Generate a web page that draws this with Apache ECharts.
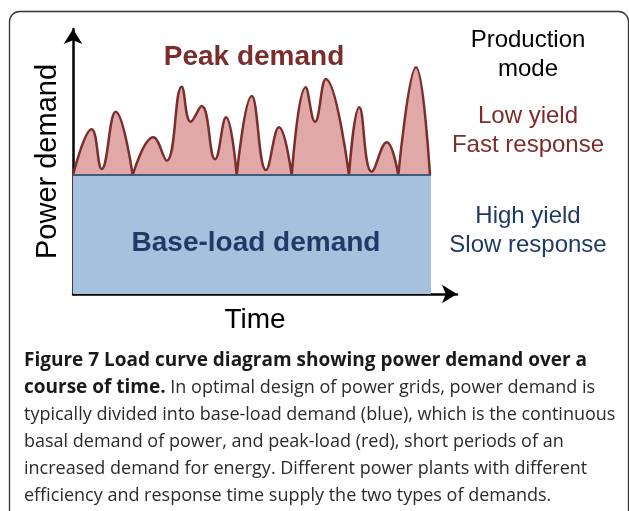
<!DOCTYPE html>
<html>
<head>
<meta charset="utf-8">
<script src="https://cdn.jsdelivr.net/npm/echarts@6/dist/echarts.min.js"></script>
<style>
  html, body { margin: 0; padding: 0; background: #fff; }
  #chart { width: 629px; height: 511px; }
</style>
</head>
<body>
<div id="chart"></div>
<script>
// time positions and load values of the peak curve (arbitrary units, base = 119)
const peakTime = [0, 18.7, 28.7, 42.7, 59.7, 80.3, 93.7, 108.7, 117.7, 128.7, 142, 153, 163.7,
  178.7, 193, 206, 218.7, 232.7, 242, 252.7, 276, 286.3, 298.7, 313.7, 325.3, 343, 357]
const peakLoad = [119, 164.7, 125, 182.3, 119, 156.7, 133.3, 207.3, 172.3, 188, 134.7, 176.7, 119,
  198, 124, 166.7, 119, 206.7, 172.3, 215, 119, 186.7, 122.3, 151.7, 119, 226.7, 119]

// constant base load
const baseTime = [0, 358]
const baseLoad = [119, 119]

const captionLines = [
  '{b|Figure 7 Load curve diagram showing power demand over a}',
  '{b|course of time.} In optimal design of power grids, power demand is',
  'typically divided into base-load demand (blue), which is the continuous',
  'basal demand of power, and peak-load (red), short periods of an',
  'increased demand for energy. Different power plants with different',
  'efficiency and response time supply the two types of demands.'
]

// break the line at every point touching the base so each hump ends in a sharp corner
const peakData = []
peakTime.forEach((t, i) => {
  peakData.push([t, peakLoad[i]])
  if (peakLoad[i] === baseLoad[0] && i > 0 && i < peakTime.length - 1) {
    peakData.push([t, '-'])
    peakData.push([t, peakLoad[i]])
  }
})
const baseData = baseTime.map((t, i) => [t, baseLoad[i]])

const chart = echarts.init(document.getElementById('chart'))

const axisCommon = {
  type: 'value',
  min: 0,
  axisLabel: { show: false },
  axisTick: { show: false },
  splitLine: { show: false },
  axisLine: {
    show: true,
    symbol: ['none', 'arrow'],
    symbolSize: [14, 15],
    lineStyle: { color: '#000', width: 2.5 }
  },
  nameLocation: 'middle'
}

const option = {
  animation: false,
  backgroundColor: '#fff',
  grid: { left: 73, right: 172, top: 29, bottom: 217 },
  xAxis: Object.assign({}, axisCommon, {
    max: 384,
    name: 'Time',
    nameGap: 12,
    nameTextStyle: { fontFamily: 'Liberation Sans', fontSize: 28, color: '#000', padding: [0, 20, 0, 0] }
  }),
  yAxis: Object.assign({}, axisCommon, {
    max: 265,
    name: 'Power demand',
    nameGap: 11,
    nameRotate: 90,
    nameTextStyle: { fontFamily: 'Liberation Sans', fontSize: 29, color: '#000' }
  }),
  series: [
    {
      name: 'Peak demand',
      type: 'line',
      data: peakData,
      smooth: 0.45,
      connectNulls: false,
      symbol: 'none',
      lineStyle: { color: '#7a2e2e', width: 2.5 },
      areaStyle: { color: '#e0a8a6', opacity: 1, origin: 'start' }
    },
    {
      name: 'Base-load demand',
      type: 'line',
      data: baseData,
      symbol: 'none',
      lineStyle: { color: '#3d5a80', width: 2 },
      areaStyle: { color: '#a7c0de', opacity: 1, origin: 'start' }
    }
  ],
  graphic: [
    {
      type: 'rect',
      shape: { x: 9.5, y: 11.5, width: 619, height: 530, r: 10 },
      style: { fill: 'none', stroke: '#333', lineWidth: 1.3 },
      z: 0
    },
    {
      type: 'text', x: 254, y: 57,
      style: { text: 'Peak demand', fill: '#7b2d2d', font: 'bold 28px "Liberation Sans"', align: 'center', verticalAlign: 'middle' },
      z: 10
    },
    {
      type: 'text', x: 256, y: 243,
      style: { text: 'Base-load demand', fill: '#1f3a66', font: 'bold 28px "Liberation Sans"', align: 'center', verticalAlign: 'middle' },
      z: 10
    },
    {
      type: 'text', x: 528, y: 40,
      style: { text: 'Production', fill: '#000', font: '24px "Liberation Sans"', align: 'center', verticalAlign: 'middle' }
    },
    {
      type: 'text', x: 528, y: 69,
      style: { text: 'mode', fill: '#000', font: '24px "Liberation Sans"', align: 'center', verticalAlign: 'middle' }
    },
    {
      type: 'text', x: 528, y: 116,
      style: { text: 'Low yield', fill: '#7f2b2b', font: '24px "Liberation Sans"', align: 'center', verticalAlign: 'middle' }
    },
    {
      type: 'text', x: 528, y: 145,
      style: { text: 'Fast response', fill: '#7f2b2b', font: '24px "Liberation Sans"', align: 'center', verticalAlign: 'middle' }
    },
    {
      type: 'text', x: 528, y: 216,
      style: { text: 'High yield', fill: '#1f3a66', font: '24px "Liberation Sans"', align: 'center', verticalAlign: 'middle' }
    },
    {
      type: 'text', x: 528, y: 245,
      style: { text: 'Slow response', fill: '#1f3a66', font: '24px "Liberation Sans"', align: 'center', verticalAlign: 'middle' }
    },
    {
      type: 'text', x: 24, y: 347,
      style: {
        text: captionLines.join('\n'),
        fill: '#2b2b2b',
        font: '18px "Open Sans"',
        lineHeight: 27,
        align: 'left',
        verticalAlign: 'top',
        rich: {
          b: { fontWeight: 'bold', fontFamily: 'Open Sans', fontSize: 19, fill: '#1a1a1a', lineHeight: 27 }
        }
      }
    }
  ]
}

chart.setOption(option)
</script>
</body>
</html>
